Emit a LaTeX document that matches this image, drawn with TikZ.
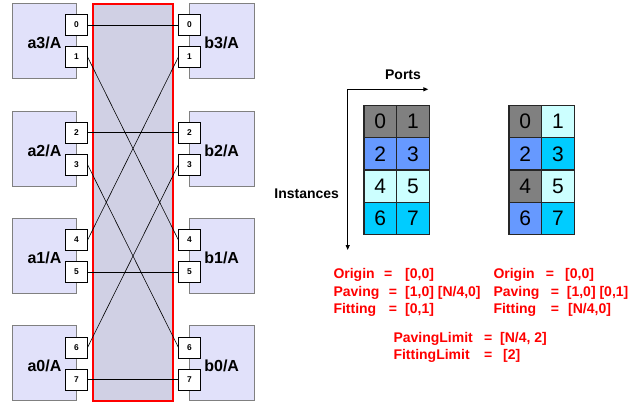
\documentclass[tikz,border=0pt]{standalone}
\usepackage{fontspec}
\setmainfont{Liberation Sans}
\usetikzlibrary{arrows.meta}
\definecolor{instfill}{RGB}{225,225,250}
\definecolor{barout}{RGB}{208,208,228}
\definecolor{barmid}{RGB}{190,186,206}
\definecolor{cgray}{RGB}{128,128,128}
\definecolor{cblue}{RGB}{102,153,255}
\definecolor{clight}{RGB}{204,255,255}
\definecolor{ccyan}{RGB}{0,204,255}
\definecolor{txtred}{RGB}{255,0,0}
\tikzset{
  inst/.style={draw=cgray, fill=instfill, line width=0.8pt, minimum width=64.4pt, minimum height=75pt, inner sep=0},
  instlabel/.style={font=\bfseries\fontsize{16}{18}\selectfont, inner sep=0},
  port/.style={draw=black, fill=white, line width=0.7pt, minimum width=21.5pt, minimum height=21pt, inner sep=0, font=\bfseries\fontsize{8.4}{9}\selectfont},
  wire/.style={draw=black, line width=0.6pt},
  cell/.style={draw=black!85, line width=1.3pt, minimum width=32.7pt, minimum height=32.3pt, inner sep=0, font=\fontsize{21}{23}\selectfont},
  axis/.style={draw=black, line width=1pt, -{Triangle[length=5pt,width=4pt]}},
  axlabel/.style={font=\bfseries\fontsize{14}{16}\selectfont, inner sep=0},
  rtxt/.style={text=txtred, font=\bfseries\fontsize{14}{16}\selectfont, inner sep=0, anchor=west},
  req/.style={text=txtred, font=\bfseries\fontsize{14}{16}\selectfont, inner sep=0},
}
\begin{document}
\begin{tikzpicture}[x=1pt,y=-1pt]
\useasboundingbox (0,0) rectangle (628,403);
% instance boxes
\foreach \i/\T/\p/\q in {3/3.3/0/1, 2/111/2/3, 1/218.3/4/5, 0/325.7/6/7}{
  \node[inst] (boxa\i) at (44.5,\T+37.5) {};
  \node[inst] (boxb\i) at (221.7,\T+37.5) {};
  \node[instlabel] (laba\i) at (44.5,\T+40) {a\i/A};
  \node[instlabel] (labb\i) at (221.7,\T+40) {b\i/A};
}
% crossbar
\node[draw=txtred, line width=2pt, left color=barout, middle color=barmid, right color=barout,
      minimum width=79.4pt, minimum height=396.4pt, inner sep=0] (xbar) at (133,202.5) {};
% ports
\foreach \i/\T/\p/\q in {3/3.3/0/1, 2/111/2/3, 1/218.3/4/5, 0/325.7/6/7}{
  \node[port] (pa\p) at (76.5,\T+21.7) {\p};
  \node[port] (pa\q) at (76.5,\T+53.7) {\q};
  \node[port] (pb\p) at (189.5,\T+21.7) {\p};
  \node[port] (pb\q) at (189.5,\T+53.7) {\q};
}
% wires
\draw[wire] (pa0.east) -- (pb0.west);
\draw[wire] (pa1.east) -- (pb4.west);
\draw[wire] (pb1.west) -- (pa4.east);
\draw[wire] (pa2.east) -- (pb2.west);
\draw[wire] (pa3.east) -- (pb6.west);
\draw[wire] (pb3.west) -- (pa6.east);
\draw[wire] (pa5.east) -- (pb5.west);
\draw[wire] (pa7.east) -- (pb7.west);
% axes
\coordinate (corner) at (347.7,89.3);
\coordinate (xend) at (428.3,89.3);
\coordinate (yend) at (347.7,250);
\draw[axis] (corner) -- (xend);
\draw[axis] (corner) -- (yend);
\node[axlabel] (ports) at (403,75) {Ports};
\node[axlabel] (instances) at (306.7,193.3) {Instances};
% grids
\foreach \n/\c/\r/\col in {0/0/0/cgray,1/1/0/cgray,2/0/1/cblue,3/1/1/cblue,4/0/2/clight,5/1/2/clight,6/0/3/ccyan,7/1/3/ccyan}{
  \node[cell, fill=\col] (ga\n) at (380.3+32.7*\c, 121.7+32.3*\r) {\n};
}
\foreach \n/\c/\r/\col in {0/0/0/cgray,1/1/0/clight,2/0/1/cblue,3/1/1/ccyan,4/0/2/cgray,5/1/2/clight,6/0/3/cblue,7/1/3/ccyan}{
  \node[cell, fill=\col] (gb\n) at (525.3+32.7*\c, 121.7+32.3*\r) {\n};
}
% red text left
\node[rtxt] (o1) at (333.3,275.3) {Origin};
\node[req] (o1e) at (388.3,275.3) {=};
\node[rtxt] (o1v) at (405,275.3) {[0,0]};
\node[rtxt] (p1) at (333.3,292.8) {Paving};
\node[req] (p1e) at (393,292.8) {=};
\node[rtxt] (p1v) at (405,292.8) {[1,0] [N/4,0]};
\node[rtxt] (f1) at (333.3,310.3) {Fitting};
\node[req] (f1e) at (393,310.3) {=};
\node[rtxt] (f1v) at (405,310.3) {[0,1]};
% red text right
\node[rtxt] (o2) at (493.3,275.3) {Origin};
\node[req] (o2e) at (550,275.3) {=};
\node[rtxt] (o2v) at (565,275.3) {[0,0]};
\node[rtxt] (p2) at (493.3,292.8) {Paving};
\node[req] (p2e) at (555,292.8) {=};
\node[rtxt] (p2v) at (566.7,292.8) {[1,0] [0,1]};
\node[rtxt] (f2) at (493.3,310.3) {Fitting};
\node[req] (f2e) at (555,310.3) {=};
\node[rtxt] (f2v) at (568,310.3) {[N/4,0]};
% limits
\node[rtxt] (pl) at (393.3,339) {PavingLimit};
\node[req] (ple) at (488.3,339) {=};
\node[rtxt] (plv) at (500,339) {[N/4, 2]};
\node[rtxt] (fl) at (393.3,356.3) {FittingLimit};
\node[req] (fle) at (488.3,356.3) {=};
\node[rtxt] (flv) at (503,356.3) {[2]};
\end{tikzpicture}
\end{document}
